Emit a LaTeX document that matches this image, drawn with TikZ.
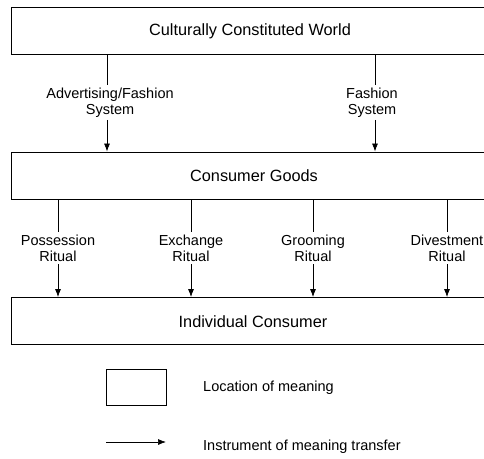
\documentclass[tikz,border=0pt]{standalone}
\usepackage{fontspec}
\setmainfont{Liberation Sans}
\usetikzlibrary{arrows.meta,positioning}

\begin{document}
\begin{tikzpicture}[x=1pt,y=-1pt,
    every node/.style={font=\fontsize{14.5}{16}\selectfont},
    location/.style={draw,line width=0.9pt,minimum width=500pt,minimum height=47pt,
      anchor=west,font=\fontsize{16.3}{19}\selectfont},
    ritual/.style={align=center,inner sep=2.5pt},
    transfer/.style={draw,line width=0.7pt,-{Latex[length=8pt,width=6pt]}}]

    \useasboundingbox (0,0) rectangle (484,458);
    \clip (0,0) rectangle (484,458);

    % the three locations of meaning
    \node[location] (WORLD) at (11,30.5) {};
    \node (WORLDTXT) at (250,31) {\fontsize{16.3}{19}\selectfont Culturally Constituted World};
    \node[location] (GOODS) at (11,175.5) {};
    \node (GOODSTXT) at (254,176) {\fontsize{16.3}{19}\selectfont Consumer Goods};
    \node[location] (CONSUMER) at (11,321) {};
    \node (CONSUMERTXT) at (253,322) {\fontsize{16.3}{19}\selectfont Individual Consumer};

    % world -> goods
    \foreach \x/\l/\t in {110/ADV/{Advertising/Fashion},372/FASH/Fashion} {
      \node[ritual] (SYS\l) at (\x,102.5) {\t\\System};
    }
    \foreach \x/\l in {107/ADV,375/FASH} {
      \coordinate (TOP\l) at (\x,0);
      \path[draw,line width=0.7pt] (TOP\l |- WORLD.south) -- (TOP\l |- SYS\l.north);
      \path[transfer] (TOP\l |- SYS\l.south) -> (TOP\l |- GOODS.north);
    }

    % goods -> consumer
    \foreach \x/\l/\t in {58/POSS/Possession,191/EXCH/Exchange,313/GROOM/Grooming,447/DIVEST/Divestment} {
      \node[ritual] (RITUAL\l) at (\x,248) {\t\\Ritual};
      \path[draw,line width=0.7pt] (RITUAL\l |- GOODS.south) -- (RITUAL\l.north);
      \path[transfer] (RITUAL\l.south) -> (RITUAL\l |- CONSUMER.north);
    }

    % legend
    \node[draw,line width=0.9pt,minimum width=60pt,minimum height=36pt] (KEYBOX) at (136,387) {};
    \node[anchor=west,inner sep=0pt] (KEYBOXTXT) at (203,388) {Location of meaning};
    \coordinate (KEYFROM) at (106,442);
    \coordinate (KEYTO) at (166,442);
    \path[transfer] (KEYFROM) -> (KEYTO);
    \node[anchor=west,inner sep=0pt] (KEYARROWTXT) at (203,447) {Instrument of meaning transfer};
  \end{tikzpicture}
\end{document}
